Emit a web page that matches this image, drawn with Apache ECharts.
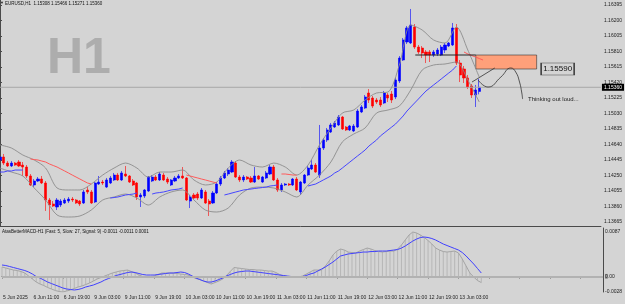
<!DOCTYPE html>
<html><head><meta charset="utf-8">
<script src="https://cdn.jsdelivr.net/npm/echarts@6/dist/echarts.min.js"></script>
<style>html,body{margin:0;padding:0;background:#d4d4d4}#c{width:625px;height:304px}</style>
</head><body><div id="c"></div><script>
// ---------- DATA ----------
const timeLabels = ['5 Jun 2025','6 Jun 11:00','6 Jun 19:00','9 Jun 03:00','9 Jun 11:00','9 Jun 19:00','10 Jun 03:00','10 Jun 11:00','10 Jun 19:00','11 Jun 03:00','11 Jun 11:00','11 Jun 19:00','12 Jun 03:00','12 Jun 11:00','12 Jun 19:00','13 Jun 03:00'];
const priceTicks = [1.16395,1.16200,1.16005,1.15810,1.15615,1.15420,1.15225,1.15030,1.14835,1.14640,1.14445,1.14250,1.14055,1.13860,1.13665];
const macdTicks = [0.0087, 0, -0.0028];
const lastPrice = 1.15360;

const opens = [1.14445,1.14483,1.14407,1.14370,1.14407,1.14420,1.14382,1.14357,1.14244,1.14131,
1.14181,1.14206,1.14156,1.13942,1.13892,1.13854,1.13879,1.13904,1.13929,1.13954,
1.13942,1.13929,1.13904,1.14068,1.14043,1.13917,1.14143,1.14168,1.14105,1.14156,
1.14194,1.14256,1.14194,1.14269,1.14244,1.14181,1.14156,1.13980,1.13992,1.14055,
1.14181,1.14231,1.14194,1.14256,1.14206,1.14131,1.14181,1.14219,1.14244,1.14219,
1.13929,1.14005,1.14017,1.13967,1.14043,1.13929,1.13904,1.14030,1.14143,1.14219,
1.14269,1.14294,1.14407,1.14231,1.14194,1.14231,1.14219,1.14168,1.14244,1.14168,
1.14219,1.14269,1.14357,1.14194,1.14068,1.14131,1.14143,1.14131,1.14206,1.14043,
1.14156,1.14256,1.14332,1.14382,1.14256,1.14596,1.14697,1.14797,1.14860,1.14886,
1.14986,1.14860,1.14823,1.14810,1.14860,1.15049,1.15099,1.15288,1.15225,1.15200,
1.15200,1.15162,1.15263,1.15275,1.15238,1.15439,1.15703,1.15930,1.15917,1.16118,
1.15866,1.15854,1.15804,1.15804,1.15766,1.15779,1.15766,1.15829,1.15879,1.15892,
1.16106,1.15665,1.15590,1.15477,1.15376,1.15263,1.15308];
const closes = [1.14483,1.14407,1.14370,1.14407,1.14382,1.14370,1.14357,1.14244,1.14131,1.14181,
1.14206,1.14156,1.13942,1.13879,1.13866,1.13942,1.13929,1.13942,1.13954,1.13942,
1.13904,1.13892,1.14043,1.14043,1.13904,1.14156,1.14168,1.14156,1.14194,1.14219,
1.14256,1.14194,1.14282,1.14244,1.14168,1.14131,1.13980,1.14005,1.14068,1.14231,
1.14231,1.14194,1.14269,1.14194,1.14168,1.14194,1.14219,1.14244,1.14219,1.13942,
1.13980,1.13967,1.13967,1.14068,1.13904,1.13892,1.14030,1.14143,1.14219,1.14282,
1.14319,1.14420,1.14231,1.14194,1.14231,1.14206,1.14168,1.14244,1.14206,1.14231,
1.14282,1.14357,1.14194,1.14068,1.14131,1.14143,1.14131,1.14206,1.14068,1.14168,
1.14256,1.14344,1.14382,1.14294,1.14596,1.14697,1.14823,1.14886,1.14911,1.14986,
1.14835,1.14823,1.14873,1.14873,1.15061,1.15112,1.15238,1.15200,1.15124,1.15175,
1.15137,1.15288,1.15225,1.15200,1.15452,1.15728,1.15955,1.16106,1.16143,1.15866,
1.15804,1.15791,1.15766,1.15766,1.15804,1.15829,1.15866,1.15892,1.15917,1.16106,
1.15665,1.15515,1.15477,1.15363,1.15263,1.15326,1.15360];
const highs = [1.14508,1.14521,1.14432,1.14432,1.14420,1.14445,1.14420,1.14382,1.14269,1.14206,
1.14231,1.14244,1.14181,1.13967,1.13929,1.13967,1.13954,1.13967,1.13980,1.13980,
1.13954,1.13942,1.14068,1.14105,1.14068,1.14168,1.14244,1.14194,1.14219,1.14244,
1.14282,1.14282,1.14307,1.14370,1.14256,1.14206,1.14168,1.14030,1.14080,1.14244,
1.14256,1.14256,1.14294,1.14282,1.14231,1.14206,1.14244,1.14269,1.14357,1.14231,
1.14005,1.14030,1.14043,1.14093,1.14068,1.13954,1.14055,1.14168,1.14244,1.14307,
1.14344,1.14445,1.14432,1.14256,1.14256,1.14244,1.14244,1.14357,1.14256,1.14244,
1.14307,1.14382,1.14382,1.14219,1.14156,1.14156,1.14156,1.14219,1.14231,1.14181,
1.14269,1.14370,1.14445,1.14407,1.14886,1.14722,1.14848,1.14911,1.14936,1.15011,
1.14999,1.14873,1.14886,1.14898,1.15086,1.15137,1.15263,1.15338,1.15250,1.15225,
1.15238,1.15313,1.15288,1.15313,1.15477,1.15753,1.15980,1.16131,1.16345,1.16156,
1.15892,1.15879,1.15829,1.15829,1.15829,1.15854,1.15892,1.15917,1.15930,1.16169,
1.16156,1.15703,1.15628,1.15515,1.15401,1.15389,1.15466];
const lows = [1.14432,1.14382,1.14357,1.14357,1.14370,1.14357,1.14244,1.14219,1.14118,1.14105,
1.14168,1.14143,1.13804,1.13690,1.13854,1.13816,1.13854,1.13892,1.13904,1.13917,
1.13892,1.13866,1.13892,1.14017,1.13892,1.13904,1.14131,1.14131,1.14093,1.14143,
1.14181,1.14181,1.14181,1.14231,1.14156,1.14118,1.13942,1.13854,1.13967,1.14043,
1.14168,1.14181,1.14181,1.14181,1.14143,1.14118,1.14168,1.14206,1.14206,1.13929,
1.13841,1.13954,1.13942,1.13954,1.13892,1.13741,1.13892,1.14017,1.14118,1.14206,
1.14244,1.14282,1.14219,1.14168,1.14168,1.14194,1.14156,1.14156,1.14194,1.14156,
1.14206,1.14256,1.14181,1.14043,1.14043,1.14118,1.14118,1.14118,1.14055,1.14005,
1.14143,1.14244,1.14319,1.14282,1.14219,1.14571,1.14672,1.14785,1.14848,1.14873,
1.14823,1.14810,1.14810,1.14797,1.14848,1.15036,1.15086,1.15162,1.15099,1.15150,
1.15112,1.15150,1.15175,1.15162,1.15212,1.15414,1.15691,1.15904,1.15904,1.15842,
1.15779,1.15728,1.15665,1.15678,1.15741,1.15753,1.15753,1.15791,1.15866,1.15879,
1.15640,1.15426,1.15414,1.15338,1.15225,1.15112,1.15271];

// Bollinger bands, read every 3rd bar
const bbStep = 3;
const bbUpper = [1.14634,1.14596,1.14508,1.14445,1.14344,1.14093,1.14068,1.14068,1.14143,1.14256,
1.14344,1.14407,1.14344,1.14231,1.14294,1.14294,1.14319,1.14194,1.14131,1.14168,
1.14344,1.14445,1.14382,1.14357,1.14407,1.14357,1.14256,1.14382,1.14634,1.14848,
1.15036,1.15074,1.15200,1.15288,1.15300,1.15640,1.16143,1.16081,1.15955,1.15917,
1.16118,1.15829,1.15489];
const bbLower = [1.14344,1.14294,1.14244,1.14093,1.13942,1.13753,1.13728,1.13741,1.13816,1.13942,
1.13980,1.14017,1.13967,1.13879,1.13980,1.14043,1.14068,1.13942,1.13816,1.13791,
1.13841,1.14005,1.14093,1.14105,1.14093,1.14043,1.13980,1.14131,1.14256,1.14420,
1.14672,1.14772,1.14848,1.15036,1.15074,1.15124,1.15326,1.15577,1.15640,1.15653,
1.15678,1.15452,1.15175];

// Moving average segments (red / blue)
const maRedStart = [8, 49, 74, 122];
const maRedVals = [
 [1.14458,1.14451,1.14445,1.14432,1.14420,1.14395,1.14376,1.14357,1.14332,1.14307,1.14282,1.14256,1.14231,1.14206,1.14181,1.14156,1.14143],
 [1.14256,1.14244,1.14231,1.14219,1.14206,1.14194,1.14181,1.14168,1.14156],
 [1.14269,1.14269,1.14263,1.14256,1.14256],
 [1.15804,1.15779,1.15760,1.15741,1.15722,1.15703]];
const maBlueStart = [0, 29, 40, 59, 81];
const maBlueVals = [
 [1.14294,1.14294,1.14307,1.14307,1.14319,1.14319,1.14319],
 [1.13967,1.13973,1.13980,1.13992,1.14005,1.14011,1.14017,1.14030],
 [1.14017,1.14030,1.14036,1.14043,1.14055,1.14068,1.14074,1.14080,1.14093],
 [1.14005,1.14017,1.14030,1.14043,1.14055,1.14068,1.14074,1.14080,1.14087,1.14093,1.14099,1.14105,1.14118,1.14124,1.14131],
 [1.14118,1.14131,1.14143,1.14168,1.14194,1.14219,1.14244,1.14282,1.14307,1.14344,1.14382,1.14420,1.14458,1.14496,1.14533,1.14571,1.14621,1.14659,1.14697,1.14747,
  1.14785,1.14823,1.14860,1.14898,1.14948,1.14999,1.15061,1.15112,1.15162,1.15212,1.15263,1.15313,1.15351,1.15389,1.15426,1.15464,1.15502,1.15540,1.15577,1.15628]];

const macdMain = [0.00169,0.00151,0.00133,0.00115,0.00106,0.00088,0.00061,0.00007,-0.00047,-0.00101,
-0.00137,-0.00164,-0.00199,-0.00226,-0.00253,-0.00271,-0.00280,-0.00262,-0.00244,-0.00217,
-0.00190,-0.00173,-0.00146,-0.00119,-0.00083,-0.00047,-0.00020,0.00007,0.00034,0.00061,
0.00079,0.00097,0.00106,0.00115,0.00088,0.00061,0.00025,-0.00002,-0.00020,-0.00020,
0.00007,0.00034,0.00061,0.00061,0.00061,0.00061,0.00052,0.00043,0.00034,0.00025,
-0.00011,-0.00038,-0.00056,-0.00083,-0.00110,-0.00137,-0.00110,-0.00083,-0.00047,0.00016,
0.00088,0.00160,0.00151,0.00142,0.00133,0.00124,0.00124,0.00115,0.00115,0.00106,
0.00097,0.00097,0.00070,0.00034,0.00007,-0.00002,-0.00011,-0.00011,-0.00011,0.00007,
0.00043,0.00079,0.00115,0.00115,0.00115,0.00187,0.00277,0.00385,0.00456,0.00492,
0.00474,0.00438,0.00429,0.00421,0.00456,0.00483,0.00510,0.00492,0.00465,0.00447,
0.00438,0.00447,0.00456,0.00456,0.00492,0.00564,0.00654,0.00744,0.00798,0.00780,
0.00744,0.00699,0.00645,0.00582,0.00510,0.00474,0.00447,0.00438,0.00447,0.00456,
0.00421,0.00313,0.00187,0.00061,-0.00011,-0.00074,-0.00110];
const macdSignal = [0.00205,0.00196,0.00178,0.00160,0.00142,0.00124,0.00106,0.00079,0.00043,-0.00002,
-0.00029,-0.00065,-0.00101,-0.00128,-0.00155,-0.00181,-0.00208,-0.00226,-0.00235,-0.00244,
-0.00235,-0.00217,-0.00190,-0.00173,-0.00155,-0.00128,-0.00101,-0.00065,-0.00038,-0.00011,
0.00016,0.00034,0.00052,0.00070,0.00079,0.00070,0.00052,0.00034,0.00025,0.00025,
0.00025,0.00034,0.00043,0.00052,0.00061,0.00061,0.00070,0.00079,0.00070,0.00043,
0.00007,-0.00029,-0.00056,-0.00083,-0.00101,-0.00101,-0.00083,-0.00056,-0.00029,0.00007,
0.00034,0.00061,0.00079,0.00088,0.00097,0.00097,0.00088,0.00079,0.00070,0.00061,
0.00052,0.00043,0.00034,0.00025,0.00016,0.00007,-0.00002,-0.00011,-0.00011,-0.00002,
0.00016,0.00043,0.00061,0.00097,0.00133,0.00169,0.00214,0.00259,0.00313,0.00367,
0.00385,0.00403,0.00412,0.00421,0.00429,0.00438,0.00438,0.00447,0.00447,0.00456,
0.00456,0.00456,0.00465,0.00474,0.00483,0.00510,0.00546,0.00591,0.00636,0.00672,
0.00699,0.00708,0.00699,0.00681,0.00654,0.00618,0.00582,0.00555,0.00528,0.00501,
0.00474,0.00429,0.00367,0.00295,0.00223,0.00142,0.00061];

// Drawn objects (bar index, price)
const zoneTop = 1.15766, zoneBottom = 1.15590, zoneFrom = 125.1, zoneTo = 141.1;
const hLine = [[109.2, 1.15766], [125.1, 1.15766]];
const arrowLine = [[124.1, 1.15426], [130.1, 1.15603]];
const thinkPath = [[125.7,1.15452],[128.3,1.15363],[131.7,1.15489],[134.3,1.15603],[135.6,1.15552],[136.6,1.15426],[137.2,1.15288],[137.4,1.15212]];

// ---------- BUILD ----------
const N = 159;
const cats = Array.from({length: N}, (_, i) => String(i));
const candles = opens.map((o, i) => [o, closes[i], lows[i], highs[i]]);
function segs(starts, vals) {
  const out = [];
  starts.forEach((s, k) => {
    if (k > 0) out.push([s - 1, null]);
    vals[k].forEach((v, j) => out.push([s + j, v]));
  });
  return out;
}
const FONT = '"Liberation Sans", Arial, sans-serif';
const chart = echarts.init(document.getElementById('c'), null, {renderer: 'canvas'});
const axisCol = '#4a4a4a';
chart.setOption({
  animation: false,
  backgroundColor: '#d4d4d4',
  textStyle: {fontFamily: FONT},
  grid: [
    {left: -1.3, top: 0, width: 605.3, height: 226},
    {left: -1.3, top: 228, width: 605.3, height: 64}
  ],
  xAxis: [
    {type: 'category', gridIndex: 0, data: cats, boundaryGap: false,
     axisLine: {show: true, lineStyle: {color: axisCol}}, axisTick: {show: false}, axisLabel: {show: false}, splitLine: {show: false}},
    {type: 'category', gridIndex: 1, data: cats, boundaryGap: false,
     axisLine: {show: true, lineStyle: {color: axisCol}},
     axisTick: {show: true, interval: (i) => i % 8 === 0, length: 2, lineStyle: {color: axisCol}},
     axisLabel: {interval: (i) => i % 8 === 0, formatter: (v, i) => timeLabels[i / 8] || '',
       align: 'left', fontSize: 5, color: '#222', margin: 3, fontFamily: FONT, padding: [0, 0, 0, 1]},
     splitLine: {show: false}},
    {type: 'value', gridIndex: 0, min: 0, max: N - 1, show: false}
  ],
  yAxis: [
    {type: 'value', gridIndex: 0, position: 'right', min: 1.13615, max: 1.16458,
     axisLine: {show: true, lineStyle: {color: axisCol}},
     axisTick: {show: true, customValues: priceTicks, length: 2, lineStyle: {color: axisCol}},
     axisLabel: {customValues: priceTicks, formatter: (v) => v.toFixed(5), fontSize: 5, color: '#222', margin: 3, fontFamily: FONT},
     splitLine: {show: false}},
    {type: 'value', gridIndex: 1, position: 'right', min: -0.0028, max: 0.0087,
     axisLine: {show: true, lineStyle: {color: axisCol}},
     axisTick: {show: false},
     axisLabel: {customValues: macdTicks,
       formatter: (v) => v === 0 ? '{hl|0}.00' : (v > 0 ? '{top|' + v + '}' : String(v)),
       fontSize: 5, color: '#222', margin: 2, fontFamily: FONT,
       rich: {hl: {backgroundColor: '#9a9a9a', fontSize: 5, color: '#222'},
              top: {fontSize: 5, color: '#222', padding: [8, 0, 0, 0]}}},
     splitLine: {show: false}}
  ],
  series: [
    // current price line (drawn first, under candles)
    {type: 'line', xAxisIndex: 2, yAxisIndex: 0, data: [[0, lastPrice], [N - 1, lastPrice]], showSymbol: false, silent: true,
     lineStyle: {color: '#a8a8a8', width: 1},
     endLabel: {show: true, formatter: lastPrice.toFixed(5), backgroundColor: '#000', color: '#fff', fontSize: 5,
       padding: [1, 2, 1, 2], distance: 1, fontFamily: FONT}},
    {type: 'candlestick', xAxisIndex: 0, yAxisIndex: 0, data: candles, barWidth: 2.6,
     itemStyle: {color: '#0000ff', color0: '#ff0000', borderColor: '#0000ff', borderColor0: '#ff0000', borderWidth: 0.6}},
    {type: 'line', xAxisIndex: 0, yAxisIndex: 0, data: bbUpper.map((v, k) => [k * bbStep, v]), showSymbol: false, smooth: 0.3,
     lineStyle: {color: '#8c8c8c', width: 0.9}},
    {type: 'line', xAxisIndex: 0, yAxisIndex: 0, data: bbLower.map((v, k) => [k * bbStep, v]), showSymbol: false, smooth: 0.3,
     lineStyle: {color: '#8c8c8c', width: 0.9}},
    {type: 'line', xAxisIndex: 0, yAxisIndex: 0, data: segs(maRedStart, maRedVals), showSymbol: false, connectNulls: false,
     lineStyle: {color: '#ff5a5a', width: 1}},
    {type: 'line', xAxisIndex: 0, yAxisIndex: 0, data: segs(maBlueStart, maBlueVals), showSymbol: false, connectNulls: false,
     lineStyle: {color: '#4646ff', width: 1}},
    // drawings
    {type: 'line', xAxisIndex: 2, yAxisIndex: 0, data: hLine, showSymbol: false, lineStyle: {color: '#222', width: 1},
     markArea: {silent: true, itemStyle: {color: '#ffa07a', borderColor: '#333', borderWidth: 0.6},
       data: [[{coord: [zoneFrom, zoneTop]}, {coord: [zoneTo, zoneBottom]}]]},
     markPoint: {silent: true, data: [{coord: [zoneTo, zoneBottom], symbol: 'rect', symbolSize: [33, 12], symbolOffset: [21, 0],
       itemStyle: {color: '#d4d4d4', borderColor: '#444', borderWidth: 1},
       label: {show: true, position: 'inside', formatter: zoneBottom.toFixed(5), fontSize: 8, color: '#111', fontFamily: FONT}}]}},
    {type: 'line', xAxisIndex: 2, yAxisIndex: 0, data: arrowLine, showSymbol: false, lineStyle: {color: '#333', width: 0.8}},
    {type: 'line', xAxisIndex: 2, yAxisIndex: 0, data: thinkPath, showSymbol: false, smooth: 0.5, lineStyle: {color: '#333', width: 0.8}},
    // MACD
    {type: 'bar', xAxisIndex: 1, yAxisIndex: 1, data: macdMain, barWidth: 1, itemStyle: {color: '#b6b6b6'},
     markLine: {silent: true, symbol: ['none', 'none'], data: [{yAxis: 0}], label: {show: false},
       lineStyle: {color: '#b2b2b2', type: 'solid', width: 2}}},
    {type: 'line', xAxisIndex: 1, yAxisIndex: 1, data: macdMain, showSymbol: false, lineStyle: {color: '#a4a4a4', width: 1}},
    {type: 'line', xAxisIndex: 1, yAxisIndex: 1, data: macdSignal, showSymbol: false, lineStyle: {color: '#4040ff', width: 1}}
  ],
  graphic: [
    {type: 'text', left: 47, top: 34, z: -1, style: {text: 'H1', font: 'bold 50px ' + FONT, fill: '#adadad'}},
    {type: 'text', left: 0, top: 1, style: {text: '▼', font: '4px ' + FONT, fill: '#222'}},
    {type: 'text', left: 5, top: 1, style: {text: 'EURUSD,H1  1.15308 1.15466 1.15271 1.15360', font: '4.5px ' + FONT, fill: '#111'}},
    {type: 'text', left: 2, top: 229, style: {text: 'AtasBetterMACD-H1 (Fast: 5, Slow: 27, Signal: 9) -0.0011 -0.0011 0.0001', font: '4.5px ' + FONT, fill: '#111'}},
    {type: 'text', left: 528, top: 96, style: {text: 'Thinking out loud...', font: '6px ' + FONT, fill: '#222'}}
  ]
});
</script></body></html>
